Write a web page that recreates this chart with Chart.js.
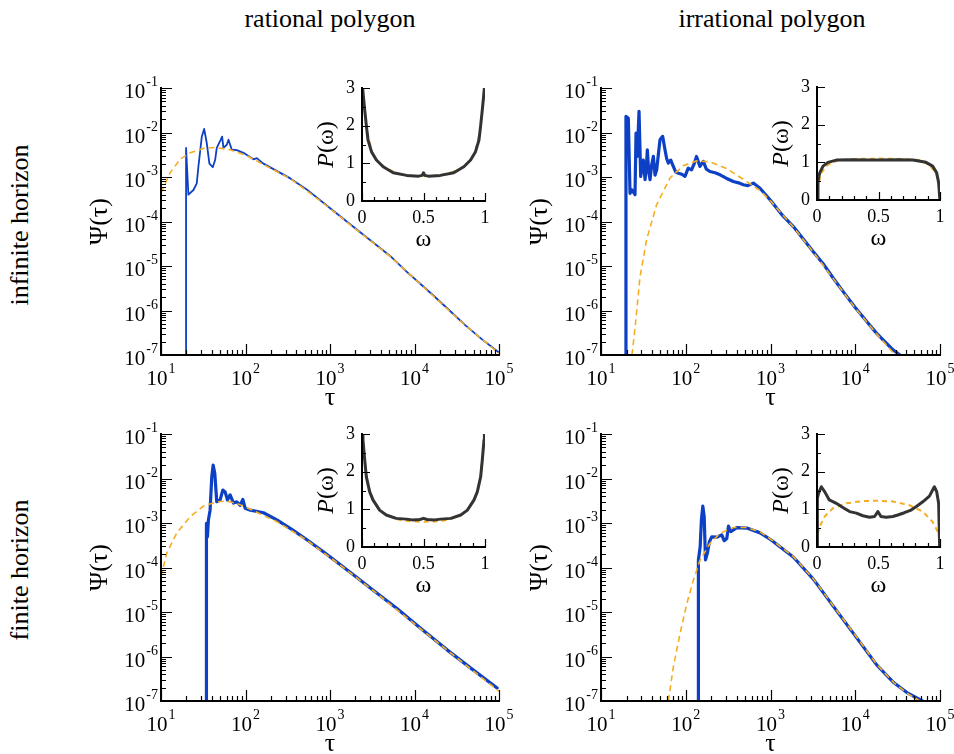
<!DOCTYPE html>
<html>
<head>
<meta charset="utf-8">
<script src="https://cdn.jsdelivr.net/npm/chart.js@4.4.1/dist/chart.umd.min.js"></script>
<style>
  body{margin:0;background:#fff;}
  #fig{position:relative;width:954px;height:754px;overflow:hidden;font-family:"Liberation Serif","Times New Roman",serif;color:#000;}
  #fig canvas{position:absolute;left:0;top:0;}
  .t{position:absolute;white-space:nowrap;line-height:1;font-size:26px;}
  .rot{transform:translate(-50%,-50%) rotate(-90deg);}
  .ctr{transform:translateX(-50%);}
</style>
</head>
<body>
<div id="fig">
  <div class="t ctr" style="left:330px;top:6px">rational polygon</div>
  <div class="t ctr" style="left:772px;top:6px">irrational polygon</div>
  <div class="t rot" style="left:20px;top:225px">infinite horizon</div>
  <div class="t rot" style="left:20px;top:570px">finite horizon</div>
</div>
<script>
// ---- tick values / labels ----
const tauTicks = [1e1, 1e2, 1e3, 1e4, 1e5];
const tauExp   = ["1", "2", "3", "4", "5"];
const psiTicks = [1e-1, 1e-2, 1e-3, 1e-4, 1e-5, 1e-6, 1e-7];
const psiExp   = ["-1", "-2", "-3", "-4", "-5", "-6", "-7"];
const omegaTicks  = [0, 0.5, 1];
const omegaLabels = ["0", "0.5", "1"];
const omegaMinor  = [0.1, 0.2, 0.3, 0.4, 0.6, 0.7, 0.8, 0.9];
const pTicks  = [0, 1, 2, 3];
const pLabels = ["0", "1", "2", "3"];
const pMinor  = [0.5, 1.5, 2.5];
const logMult = [2, 3, 4, 5, 6, 7, 8, 9];

// ---- Psi(tau): simulation (blue) and fit (orange dashed), [tau, psi] ----
const ratInfSim = [[19.8,5e-8],[19.8,4.5e-3],[21.1,4.0e-4],[24.2,5.1e-4],[26.5,7.2e-4],[27.7,1.7e-3],[30.4,8.1e-3],
  [32.4,1.2e-2],[34.8,5.8e-3],[37.4,2.0e-3],[41.0,1.66e-3],[43.7,2.4e-3],[45.7,4.5e-3],[51.0,6.9e-3],[52.9,8.1e-3],
  [54.8,4.5e-3],[60.1,5.3e-3],[62.9,6.9e-3],[68.9,4.1e-3],[78.9,4.0e-3],[94.7,3.5e-3],[124,2.5e-3],[136,2.65e-3],
  [163,2.0e-3],[339,9.3e-4],[520,5.4e-4],[841,2.6e-4],[1400,1.2e-4],[2090,6.5e-5],[3300,3.3e-5],[5190,1.66e-5],
  [8000,7.6e-6],[1.17e4,4.0e-6],[1.66e4,2.2e-6],[2.6e4,1.0e-6],[3.98e4,4.7e-7],[6.2e4,2.3e-7],[9.8e4,1.17e-7]];
const ratInfFit = [[10,4.4e-4],[12.8,1.23e-3],[16.8,2.5e-3],[22.1,3.5e-3],[31.8,4.4e-3],[43.7,4.6e-3],[65.8,4.1e-3],
  [104,3.0e-3],[215,1.45e-3],[339,9.2e-4],[841,2.55e-4],[2090,6.4e-5],[5190,1.64e-5],[1.17e4,3.95e-6],
  [3.98e4,4.65e-7],[1e5,1.1e-7]];

const irrInfSim = [[19.7,5e-8],[19.7,2.3e-2],[21.0,2.1e-2],[22.0,4.3e-4],[23.0,5.2e-4],[25.2,4.0e-4],[25.9,9.7e-3],
  [26.8,2.9e-3],[28.1,3.0e-2],[29.4,1.03e-3],[30.5,1.6e-3],[31.6,2.4e-3],[33.1,8.7e-4],[34.2,1.5e-3],[35.2,4.1e-3],
  [36.5,1.4e-3],[37.9,8.7e-4],[39.5,1.8e-3],[41.5,2.9e-3],[43.4,1.1e-3],[45.4,1.45e-3],[47.5,3.2e-3],[49.7,6.9e-3],
  [53.4,8.2e-3],[56.9,4.1e-3],[59.5,2.6e-3],[62.3,2.05e-3],[66.5,2.4e-3],[71.3,1.73e-3],[76.0,1.3e-3],[81.7,1.22e-3],
  [90.0,1.15e-3],[97.9,1.03e-3],[107,1.58e-3],[117,1.45e-3],[126,2.0e-3],[134,2.9e-3],[147,1.73e-3],[161,2.24e-3],
  [175,1.5e-3],[193,1.33e-3],[222,1.25e-3],[254,1.12e-3],[300,9.4e-4],[364,7.9e-4],[420,7.4e-4],[478,6.7e-4],
  [540,6.4e-4],[627,7.3e-4],[752,5.6e-4],[1005,2.96e-4],[1350,1.45e-4],[1860,7.7e-5],[2500,3.8e-5],[3200,2.1e-5],
  [4300,1.05e-5],[5510,5.3e-6],[7500,2.4e-6],[9930,1.18e-6],[1.35e4,5.8e-7],[1.79e4,3.06e-7],[2.81e4,1.29e-7],[3.37e4,1e-7]];
const irrInfFit = [[23.2,1e-7],[25.2,4e-7],[28.8,5.5e-6],[34.6,4e-5],[45.4,2.4e-4],[65.2,9.5e-4],[93.5,1.8e-3],
  [134.6,2.3e-3],[193,2.2e-3],[304,1.55e-3],[524,7.9e-4],[752,5.0e-4],[1005,2.9e-4],[1860,7.5e-5],[3200,2.05e-5],
  [5510,5.2e-6],[9930,1.15e-6],[1.79e4,3.0e-7],[2.95e4,1e-7]];

const ratFinSim = [[34.2,5e-8],[34.2,9.8e-4],[34.8,8.3e-4],[35.4,4.9e-4],[36.4,1.17e-3],[38.1,1.94e-3],[39.9,1.1e-2],
  [41.4,2.0e-2],[43.3,1.3e-2],[45.7,3.0e-3],[50.1,3.3e-3],[53.9,5.5e-3],[57.4,5.0e-3],[61.2,3.3e-3],[65.8,4.3e-3],
  [72.1,2.8e-3],[78.9,3.0e-3],[86.5,2.5e-3],[93.0,3.4e-3],[99.1,2.14e-3],[114,1.94e-3],[163,1.7e-3],[235,1.17e-3],
  [360,7.0e-4],[533,4.2e-4],[850,2.2e-4],[1327,1.15e-4],[2100,5.9e-5],[3300,3.0e-5],[6200,1.2e-5],[1.18e4,4.3e-6],
  [2.43e4,1.41e-6],[4.8e4,5.2e-7],[9.5e4,1.95e-7]];
const ratFinFit = [[10,6.2e-5],[11.7,2.1e-4],[15.3,5.9e-4],[22.1,1.38e-3],[31.8,2.4e-3],[45.7,3.0e-3],[60.1,3.1e-3],
  [78.9,2.75e-3],[114,2.04e-3],[235,1.07e-3],[533,4.1e-4],[1327,1.13e-4],[3300,2.95e-5],[1.18e4,4.2e-6],
  [2.43e4,1.4e-6],[1e5,1.65e-7]];

const irrFinSim = [[141,5e-8],[141,1.48e-4],[148,2.95e-4],[153,1.17e-3],[159,2.4e-3],[165,1.38e-3],[171,1.48e-4],
  [180,2.1e-4],[190,3.8e-4],[203,4.9e-4],[232,4.8e-4],[266,5.4e-4],[284,4.0e-4],[305,4.5e-4],[319,8.5e-4],
  [340,6.4e-4],[400,7.9e-4],[525,7.7e-4],[755,6.0e-4],[1009,4.2e-4],[1870,1.7e-4],[3220,5.4e-5],[5550,1.32e-5],
  [1e4,2.9e-6],[1.8e4,6.4e-7],[2.84e4,2.6e-7],[4.07e4,1.55e-7],[6.2e4,1e-7]];
const irrFinFit = [[62.4,1e-7],[71.4,5.9e-7],[85.7,3.3e-6],[103,1.55e-5],[123,5.2e-5],[148,1.48e-4],[194,3.5e-4],
  [255,5.9e-4],[366,7.9e-4],[525,7.9e-4],[755,6.3e-4],[1009,4.3e-4],[1870,1.75e-4],[3220,5.5e-5],[5550,1.35e-5],
  [1e4,3.0e-6],[1.8e4,6.6e-7],[2.84e4,2.6e-7],[4.07e4,1.5e-7],[5.8e4,1e-7]];

// ---- insets P(omega), [omega, P] ----
const ratInfP = [[0.005,3.0],[0.012,2.75],[0.022,2.42],[0.036,1.98],[0.049,1.62],[0.077,1.31],[0.117,1.09],
  [0.172,0.91],[0.254,0.75],[0.363,0.68],[0.46,0.66],[0.49,0.68],[0.5,0.75],[0.51,0.68],[0.54,0.66],[0.637,0.68],
  [0.746,0.75],[0.828,0.91],[0.883,1.09],[0.923,1.31],[0.951,1.62],[0.964,1.98],[0.978,2.42],[0.988,2.75],[0.995,3.0]];
const ratInfPFit = [[0.005,3.0],[0.02,2.5],[0.04,1.85],[0.08,1.3],[0.12,1.07],[0.2,0.86],[0.3,0.72],[0.4,0.67],
  [0.5,0.66],[0.6,0.67],[0.7,0.72],[0.8,0.86],[0.88,1.07],[0.92,1.3],[0.96,1.85],[0.98,2.5],[0.995,3.0]];

const irrInfP = [[0.001,0],[0.008,0.5],[0.022,0.72],[0.049,0.90],[0.089,1.0],[0.157,1.06],[0.29,1.07],[0.4,1.06],
  [0.51,1.06],[0.65,1.07],[0.78,1.06],[0.886,1.0],[0.94,0.9],[0.973,0.72],[0.989,0.46],[0.999,0]];
const irrInfPFit = [[0.002,0],[0.008,0.37],[0.035,0.72],[0.089,0.94],[0.18,1.06],[0.3,1.09],[0.51,1.1],[0.7,1.09],
  [0.83,1.06],[0.91,0.94],[0.968,0.72],[0.995,0.37],[0.999,0]];

const ratFinP = [[0.005,3.0],[0.008,2.84],[0.022,2.31],[0.035,1.87],[0.062,1.47],[0.089,1.25],[0.143,0.98],
  [0.197,0.85],[0.278,0.76],[0.36,0.74],[0.41,0.72],[0.47,0.73],[0.5,0.76],[0.53,0.73],[0.59,0.72],[0.64,0.74],
  [0.722,0.76],[0.803,0.85],[0.857,0.98],[0.911,1.25],[0.938,1.47],[0.965,1.87],[0.978,2.31],[0.992,2.84],[0.995,3.0]];
const ratFinPFit = [[0.005,3.0],[0.02,2.4],[0.04,1.8],[0.07,1.4],[0.1,1.18],[0.15,0.96],[0.2,0.84],[0.3,0.72],
  [0.4,0.68],[0.5,0.67],[0.6,0.68],[0.7,0.72],[0.8,0.84],[0.85,0.96],[0.9,1.18],[0.93,1.4],[0.96,1.8],[0.98,2.4],[0.995,3.0]];

const irrFinP = [[0.001,0],[0.003,1.3],[0.015,1.45],[0.035,1.6],[0.062,1.47],[0.10,1.25],[0.157,1.16],[0.21,1.05],
  [0.265,0.94],[0.32,0.90],[0.373,0.83],[0.427,0.79],[0.468,0.81],[0.495,0.94],[0.52,0.81],[0.562,0.79],
  [0.616,0.81],[0.657,0.85],[0.71,0.91],[0.765,0.98],[0.805,1.07],[0.86,1.20],[0.914,1.35],[0.954,1.6],
  [0.973,1.47],[0.989,1.16],[0.997,0]];
const irrFinPFit = [[0.001,0.1],[0.003,0.32],[0.022,0.54],[0.062,0.81],[0.13,1.03],[0.238,1.16],[0.373,1.22],
  [0.495,1.23],[0.616,1.21],[0.75,1.11],[0.86,0.94],[0.94,0.67],[0.981,0.41],[0.995,0.23],[0.999,0.05]];

// ---- styling ----
const BLUE = "#0d40c4";
const ORANGE = "#f6ad22";
const INK = "#333333";
const SERIF = '"Liberation Serif","Times New Roman",serif';
const W = 954, H = 754;

const decadesMinor = (ticks) => {
  const out = [];
  ticks.slice(0, -1).forEach(d => logMult.forEach(m => out.push(d * m)));
  return out;
};
const tauMinor = decadesMinor(tauTicks);
const psiMinor = decadesMinor(psiTicks.slice().reverse());

function powLabel(ctx, exp, x, base, align){
  ctx.font = "21px " + SERIF;
  const w1 = ctx.measureText("10").width;
  ctx.font = "14px " + SERIF;
  const w2 = ctx.measureText(exp).width;
  const w = w1 + w2 + 1;
  const left = align === "center" ? x - w / 2 : x - w;
  ctx.textAlign = "left";
  ctx.textBaseline = "alphabetic";
  ctx.font = "21px " + SERIF;
  ctx.fillText("10", left, base);
  ctx.font = "14px " + SERIF;
  ctx.fillText(exp, left + w1 + 1, base - 12);
}

function rotText(ctx, parts, cx, cy){
  ctx.save();
  ctx.translate(cx, cy);
  ctx.rotate(-Math.PI / 2);
  let total = 0;
  parts.forEach(([t, f]) => { ctx.font = f; total += ctx.measureText(t).width; });
  let x = -total / 2;
  ctx.textAlign = "left";
  ctx.textBaseline = "middle";
  parts.forEach(([t, f]) => { ctx.font = f; ctx.fillText(t, x, 0); x += ctx.measureText(t).width; });
  ctx.restore();
}

// axes drawn inward, xmgrace style (left + bottom only)
const frame = {
  id: "frame",
  afterDatasetsDraw(chart, _args, o){
    const { ctx, chartArea: a, scales: { x, y } } = chart;
    ctx.save();
    ctx.strokeStyle = "#000";
    ctx.fillStyle = "#000";
    ctx.lineWidth = o.axisWidth;
    ctx.lineCap = "square";
    ctx.beginPath();
    ctx.moveTo(a.left, a.top);
    ctx.lineTo(a.left, a.bottom);
    ctx.lineTo(a.right, a.bottom);
    ctx.stroke();

    ctx.lineCap = "butt";
    ctx.lineWidth = o.tickWidth;
    ctx.beginPath();
    const xt = (v, len) => { const p = Math.round(x.getPixelForValue(v)) + 0.5; ctx.moveTo(p, a.bottom); ctx.lineTo(p, a.bottom - len); };
    const yt = (v, len) => { const p = Math.round(y.getPixelForValue(v)) + 0.5; ctx.moveTo(a.left, p); ctx.lineTo(a.left + len, p); };
    o.xMajor.forEach(v => xt(v, o.major));
    o.xMinor.forEach(v => xt(v, o.minor));
    o.yMajor.forEach(v => yt(v, o.major));
    o.yMinor.forEach(v => yt(v, o.minor));
    ctx.stroke();

    if (o.kind === "log"){
      o.xMajor.forEach((v, i) => powLabel(ctx, o.xLab[i], x.getPixelForValue(v), a.bottom + 30, "center"));
      o.yMajor.forEach((v, i) => powLabel(ctx, o.yLab[i], a.left - 3, y.getPixelForValue(v) + 10, "right"));
      ctx.font = "26px " + SERIF;
      ctx.textAlign = "center";
      ctx.textBaseline = "alphabetic";
      ctx.fillText("τ", (a.left + a.right) / 2, a.bottom + 50);
      rotText(ctx, [["Ψ(τ)", "26px " + SERIF]], a.left - 61, (a.top + a.bottom) / 2);
    } else {
      ctx.font = "18px " + SERIF;
      ctx.textAlign = "center";
      ctx.textBaseline = "alphabetic";
      o.xMajor.forEach((v, i) => ctx.fillText(o.xLab[i], x.getPixelForValue(v), a.bottom + 22));
      ctx.textAlign = "right";
      ctx.textBaseline = "middle";
      o.yMajor.forEach((v, i) => ctx.fillText(o.yLab[i], a.left - 7, y.getPixelForValue(v)));
      ctx.font = "24px " + SERIF;
      ctx.textAlign = "center";
      ctx.textBaseline = "alphabetic";
      ctx.fillText("ω", (a.left + a.right) / 2, a.bottom + 45);
      rotText(ctx, [["P", "italic 24px " + SERIF], ["(ω)", "24px " + SERIF]], a.left - 35, (a.top + a.bottom) / 2);
    }
    ctx.restore();
  }
};

const pts = arr => arr.map(([x, y]) => ({ x, y }));

function addCanvas(){
  const c = document.createElement("canvas");
  c.width = W; c.height = H;
  c.style.width = W + "px"; c.style.height = H + "px";
  document.getElementById("fig").appendChild(c);
  return c;
}

function makeChart(area, datasets, scales, frameOpts){
  const [l, t, r, b] = area;
  return new Chart(addCanvas(), {
    type: "scatter",
    data: { datasets },
    options: {
      responsive: false,
      animation: false,
      devicePixelRatio: 1,
      events: [],
      layout: { padding: { left: l, top: t, right: W - r, bottom: H - b } },
      plugins: { legend: { display: false }, tooltip: { enabled: false }, frame: frameOpts },
      scales
    },
    plugins: [frame]
  });
}

function mainPanel(area, sim, fit, simWidth){
  makeChart(area, [
    { data: pts(fit), showLine: true, pointRadius: 0, borderColor: ORANGE, borderWidth: 1.6,
      borderDash: [6, 4], tension: 0, order: 0 },
    { data: pts(sim), showLine: true, pointRadius: 0, borderColor: BLUE, borderWidth: simWidth,
      borderJoinStyle: "round", borderCapStyle: "round", tension: 0, order: 1 }
  ], {
    x: { type: "logarithmic", min: 10, max: 1e5, display: false },
    y: { type: "logarithmic", min: 1e-7, max: 1e-1, display: false }
  }, {
    kind: "log", axisWidth: 2, tickWidth: 1.2, major: 11, minor: 5,
    xMajor: tauTicks, xMinor: tauMinor, xLab: tauExp,
    yMajor: psiTicks, yMinor: psiMinor, yLab: psiExp
  });
}

function insetPanel(area, dist, fit){
  makeChart(area, [
    { data: pts(fit), showLine: true, pointRadius: 0, borderColor: ORANGE, borderWidth: 2,
      borderDash: [5, 4], tension: 0, order: 1 },
    { data: pts(dist), showLine: true, pointRadius: 0, borderColor: INK, borderWidth: 3,
      borderJoinStyle: "round", tension: 0, order: 0 }
  ], {
    x: { type: "linear", min: 0, max: 1, display: false },
    y: { type: "linear", min: 0, max: 3, display: false }
  }, {
    kind: "lin", axisWidth: 2, tickWidth: 1.2, major: 8, minor: 4,
    xMajor: omegaTicks, xMinor: omegaMinor, xLab: omegaLabels,
    yMajor: pTicks, yMinor: pMinor, yLab: pLabels
  });
}

mainPanel([161, 88, 499, 355], ratInfSim, ratInfFit, 1.8);
mainPanel([601, 88, 940, 355], irrInfSim, irrInfFit, 3.2);
mainPanel([161, 434, 499, 701], ratFinSim, ratFinFit, 3.2);
mainPanel([601, 434, 940, 701], irrFinSim, irrFinFit, 3.2);

insetPanel([362, 88, 485, 201], ratInfP, ratInfPFit);
insetPanel([817, 87, 940, 200], irrInfP, irrInfPFit);
insetPanel([362, 434, 485, 547], ratFinP, ratFinPFit);
insetPanel([817, 434, 940, 547], irrFinP, irrFinPFit);
</script>
</body>
</html>
